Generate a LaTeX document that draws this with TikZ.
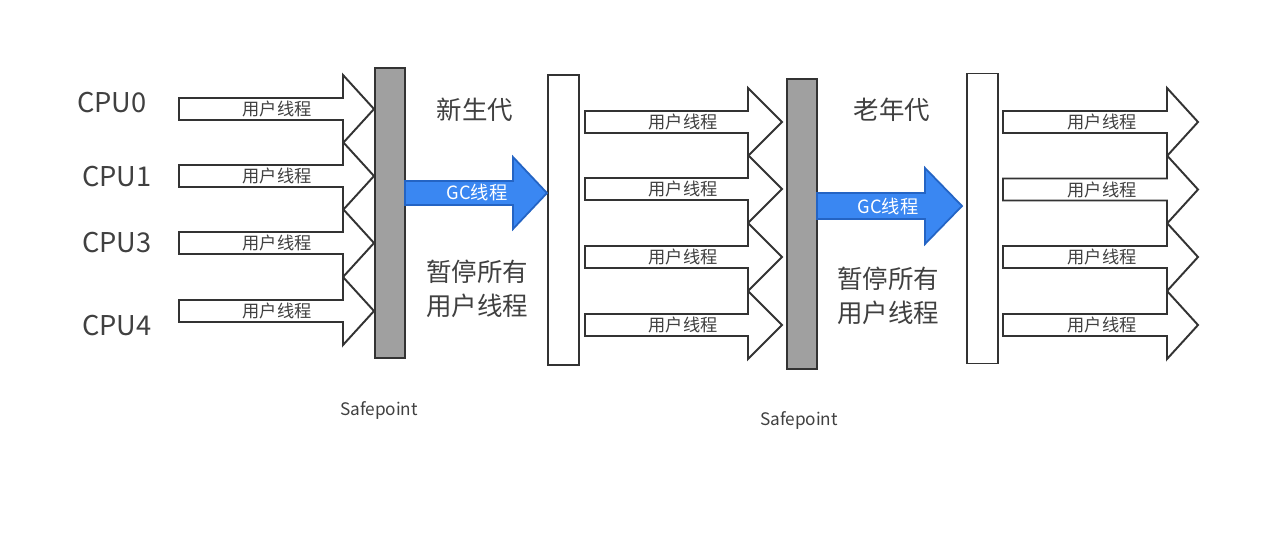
\documentclass[tikz,border=0pt]{standalone}
\usepackage{fontspec}
\setmainfont{Noto Sans CJK SC}
\definecolor{ink}{HTML}{333333}
\definecolor{txt}{HTML}{404040}
\definecolor{barfill}{HTML}{A0A0A0}
\definecolor{gcfill}{HTML}{3A87F2}
\definecolor{gcdraw}{HTML}{2464C4}
\def\px{0.02cm}
\tikzset{
  blk/.style={draw=ink, line width=1.1pt, fill=white, line join=miter},
  gcarrow/.style={draw=gcdraw, line width=1pt, fill=gcfill, line join=miter},
  graybar/.style={draw=ink, line width=1.1pt, fill=barfill, minimum width=30*\px, minimum height=290*\px, inner sep=0pt},
  whitebar/.style={draw=ink, line width=1.1pt, fill=white, minimum width=31*\px, minimum height=290*\px, inner sep=0pt},
  thlabel/.style={text=txt, font=\fontsize{9.8}{11}\selectfont, inner sep=0pt},
  gclabel/.style={text=white, font=\fontsize{10.4}{12}\selectfont, inner sep=0pt},
  cpulabel/.style={text=txt, font=\fontsize{15.5}{18}\selectfont, inner sep=0pt},
  genlabel/.style={text=txt, font=\fontsize{14.5}{19.5}\selectfont, inner sep=0pt, align=center},
  splabel/.style={text=txt, font=\fontsize{9.8}{11}\selectfont, inner sep=0pt}
}
% block arrow: name, tail x, head x, tip x, centre y, half shaft, half head, style
\newcommand\blockarrow[8]{%
  \coordinate (#1-tail) at (#2,#5);
  \coordinate (#1-tip) at (#4,#5);
  \draw[#8] (#2,#5-#6) -- (#3,#5-#6) -- (#3,#5-#7) -- (#1-tip)
    -- (#3,#5+#7) -- (#3,#5+#6) -- (#2,#5+#6) -- cycle;
}
% user thread arrow with its label
\newcommand\userthread[6]{%
  \blockarrow{#1}{#2}{#3}{#4}{#5}{11}{34}{blk}
  \node[thlabel] (#1-text) at (#6,#5) {用户线程};
}
\begin{document}
\begin{tikzpicture}[x=\px, y=-\px]
\fill[white] (0,0) rectangle (1280,539);
\useasboundingbox (0,0) rectangle (1280,539);

% CPU names
\node[cpulabel] (cpu0) at (112,103) {CPU0};
\node[cpulabel] (cpu1) at (117,177) {CPU1};
\node[cpulabel] (cpu3) at (117,243) {CPU3};
\node[cpulabel] (cpu4) at (117,326) {CPU4};

% user threads before the first safepoint
\userthread{a1}{179}{343}{374}{109}{277}
\userthread{a2}{179}{343}{374}{176}{277}
\userthread{a3}{179}{343}{374}{243}{277}
\userthread{a4}{179}{343}{374}{311}{277}

% user threads between the collections
\userthread{b1}{585}{748}{782}{122}{683}
\userthread{b2}{585}{748}{782}{189}{683}
\userthread{b3}{585}{748}{782}{257}{683}
\userthread{b4}{585}{748}{782}{325}{683}

% user threads after the second collection
\userthread{c1}{1003}{1167}{1198}{122}{1102}
\userthread{c2}{1003}{1167}{1198}{189.5}{1102}
\userthread{c3}{1003}{1167}{1198}{257}{1102}
\userthread{c4}{1003}{1167}{1198}{325}{1102}

% safepoints and resume bars
\node[graybar] (sp1) at (390,213) {};
\node[whitebar] (res1) at (563.5,220) {};
\node[graybar] (sp2) at (802,224) {};
\node[whitebar] (res2) at (982.5,218.5) {};

% GC threads
\blockarrow{gc1}{405}{513}{547}{193}{12}{36}{gcarrow}
\node[gclabel] (gc1-text) at (477,193) {GC线程};
\blockarrow{gc2}{817}{925}{962}{206}{13}{38}{gcarrow}
\node[gclabel] (gc2-text) at (888,207) {GC线程};

% generation captions
\node[genlabel] (young) at (475,110) {新生代};
\node[genlabel] (stop1) at (477,289) {暂停所有\\用户线程};
\node[genlabel] (old) at (892,110) {老年代};
\node[genlabel] (stop2) at (888,295.5) {暂停所有\\用户线程};

% safepoint captions
\node[splabel] (sp1-text) at (379,410) {Safepoint};
\node[splabel] (sp2-text) at (799,420) {Safepoint};
\end{tikzpicture}
\end{document}
